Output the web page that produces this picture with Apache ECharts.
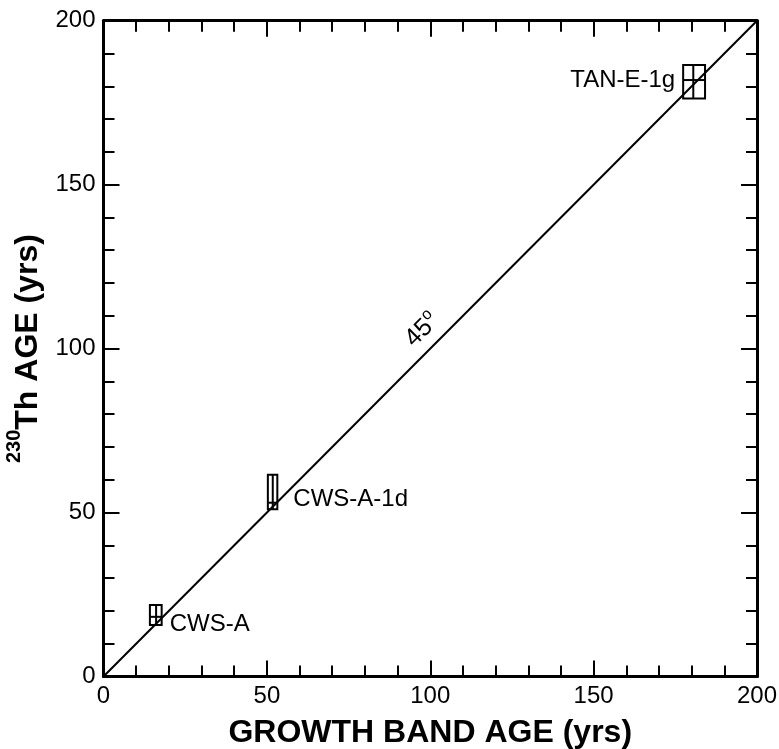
<!DOCTYPE html>
<html>
<head>
<meta charset="utf-8">
<script src="https://cdn.jsdelivr.net/npm/echarts@6/dist/echarts.min.js"></script>
<style>
html,body{margin:0;padding:0;background:#fff;}
#chart{width:779px;height:749px;}
</style>
</head>
<body>
<div id="chart"></div>
<script>
// ---- data ----
var sampleNames = ['CWS-A', 'CWS-A-1d', 'TAN-E-1g'];
var bandAge     = [16.1, 51.8, 180.5];   // x (growth band age)
var bandAgeLo   = [14.2, 50.3, 177.4];
var bandAgeHi   = [17.8, 53.2, 184.1];
var thAge       = [18.2, 53.0, 181.9];   // y (230Th age)
var thAgeLo     = [15.7, 51.0, 176.3];
var thAgeHi     = [21.8, 61.5, 186.5];
var oneToOneX   = [0, 200];
var oneToOneY   = [0, 200];
var lineLabelAt = [97.2, 106];
var axisMin = 0, axisMax = 200, axisStep = 50;

// ---- layout (not data) ----
var labelLayout = [
  {align: 'left',  dx: 8,  dy: 8},
  {align: 'left',  dx: 16, dy: -3},
  {align: 'right', dx: -8, dy: 0}
];

var FONT = '"Liberation Sans", Arial, Helvetica, sans-serif';

var boxData = sampleNames.map(function (n, i) {
  return [bandAge[i], bandAgeLo[i], bandAgeHi[i], thAge[i], thAgeLo[i], thAgeHi[i], i];
});
var lineData = oneToOneX.map(function (x, i) { return [x, oneToOneY[i]]; });

function axisCommon(showLabels) {
  return {
    type: 'value', min: axisMin, max: axisMax, interval: axisStep,
    axisLine: {show: true, onZero: false, lineStyle: {color: '#000', width: 3}},
    axisTick: {show: true, inside: true, length: 16, lineStyle: {color: '#000', width: 2}},
    minorTick: {show: true, splitNumber: 5, length: 11, lineStyle: {color: '#000', width: 2}},
    splitLine: {show: false},
    minorSplitLine: {show: false},
    axisLabel: {show: showLabels, fontSize: 24, color: '#000', fontFamily: FONT, margin: 8}
  };
}

var xBottom = axisCommon(true);
xBottom.position = 'bottom';
xBottom.name = 'GROWTH BAND AGE (yrs)';
xBottom.nameLocation = 'middle';
xBottom.nameGap = 41;
xBottom.nameTextStyle = {fontSize: 32, fontWeight: 'bold', color: '#000', fontFamily: FONT};
var xTop = axisCommon(false);
xTop.position = 'top';

var yLeft = axisCommon(true);
yLeft.position = 'left';
yLeft.name = '{sup|230}{main|Th AGE (yrs)}';
yLeft.nameLocation = 'middle';
yLeft.nameRotate = 90;
yLeft.nameGap = 54;
yLeft.nameTextStyle = {
  color: '#000', fontFamily: FONT,
  rich: {
    sup: {fontSize: 20, fontWeight: 'bold', color: '#000', fontFamily: FONT, verticalAlign: 'top', lineHeight: 40},
    main: {fontSize: 32, fontWeight: 'bold', color: '#000', fontFamily: FONT, verticalAlign: 'bottom', lineHeight: 40}
  }
};
var yRight = axisCommon(false);
yRight.position = 'right';

var option = {
  animation: false,
  backgroundColor: '#fff',
  grid: {left: 103.5, right: 22, top: 20.7, bottom: 72.5, containLabel: false, outerBoundsMode: 'none'},
  xAxis: [xBottom, xTop],
  yAxis: [yLeft, yRight],
  series: [
    {
      type: 'line', data: lineData, xAxisIndex: 0, yAxisIndex: 0,
      symbol: 'none', silent: true,
      lineStyle: {color: '#000', width: 2}
    },
    {
      type: 'custom', xAxisIndex: 0, yAxisIndex: 0, silent: true,
      data: boxData,
      renderItem: function (params, api) {
        var xc = api.value(0), xl = api.value(1), xh = api.value(2);
        var yc = api.value(3), yl = api.value(4), yh = api.value(5);
        var idx = api.value(6);
        var p1 = api.coord([xl, yh]);
        var p2 = api.coord([xh, yl]);
        var pc = api.coord([xc, yc]);
        var st = {stroke: '#000', lineWidth: 2, fill: null};
        var lay = labelLayout[idx];
        var tx = lay.align === 'left' ? p2[0] + lay.dx : p1[0] + lay.dx;
        return {
          type: 'group',
          children: [
            {type: 'rect', shape: {x: p1[0], y: p1[1], width: p2[0] - p1[0], height: p2[1] - p1[1]}, style: st},
            {type: 'line', shape: {x1: pc[0], y1: p1[1], x2: pc[0], y2: p2[1]}, style: st},
            {type: 'line', shape: {x1: p1[0], y1: pc[1], x2: p2[0], y2: pc[1]}, style: st},
            {type: 'text', x: tx, y: pc[1] + lay.dy,
              style: {text: sampleNames[idx], fill: '#000', fontSize: 24, fontFamily: FONT,
                align: lay.align, verticalAlign: 'middle'}}
          ]
        };
      }
    },
    {
      type: 'custom', xAxisIndex: 0, yAxisIndex: 0, silent: true,
      data: [lineLabelAt],
      renderItem: function (params, api) {
        var p = api.coord([api.value(0), api.value(1)]);
        return {
          type: 'text', x: p[0], y: p[1], rotation: Math.PI / 4,
          style: {
            text: '{n|45}{d|o}', align: 'center', verticalAlign: 'middle',
            fontFamily: FONT,
            rich: {
              n: {fontSize: 25, fontFamily: FONT, fill: '#000', color: '#000', verticalAlign: 'bottom', lineHeight: 28},
              d: {fontSize: 16, fontFamily: FONT, fill: '#000', color: '#000', verticalAlign: 'top', lineHeight: 28}
            }
          }
        };
      }
    }
  ]
};

var chart = echarts.init(document.getElementById('chart'), null, {renderer: 'canvas'});
chart.setOption(option);
</script>
</body>
</html>
